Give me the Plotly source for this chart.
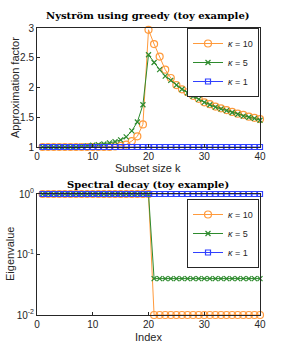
import plotly.graph_objects as go

k = list(range(1, 41))
fac_k10 = [1.0]*13 + [1.01, 1.02, 1.04, 1.10, 1.18, 1.38, 2.97, 2.73, 2.52, 2.30, 2.16, 2.04, 1.97, 1.92, 1.86,
           1.81, 1.75, 1.72, 1.68, 1.65, 1.62, 1.59, 1.56, 1.54, 1.51, 1.49, 1.47]
fac_k5 = [1.0]*7 + [1.01, 1.02, 1.03, 1.04, 1.05, 1.07, 1.09, 1.12, 1.17, 1.27, 1.42, 1.71, 2.55, 2.42, 2.30,
          2.19, 2.12, 2.04, 1.97, 1.91, 1.85, 1.80, 1.75, 1.71, 1.67, 1.64, 1.61, 1.58, 1.55, 1.52, 1.50, 1.48, 1.45]
fac_k1 = [1.0]*40
eig_k10 = [1.0]*20 + [0.01]*20
eig_k5 = [1.0]*20 + [0.04]*20
eig_k1 = [1.0]*40
labels = ["<i>κ</i> = 10", "<i>κ</i> = 5", "<i>κ</i> = 1"]

W, H = 287, 354
OR, GR, BL = "#FF9A3C", "#2E8B2E", "#3040FF"

def X(p):
    return p / W

def Y(p):
    return 1 - p / H

fig = go.Figure()
styles = [
    dict(color=OR, sym="circle-open", size=7),
    dict(color=GR, sym="x-thin-open", size=5),
    dict(color=BL, sym="square-open", size=5),
]
for ys, lab, st in zip([fac_k10, fac_k5, fac_k1], labels, styles):
    fig.add_trace(go.Scatter(x=k, y=ys, name=lab, mode="lines+markers", xaxis="x", yaxis="y",
                             line=dict(color=st["color"], width=1),
                             marker=dict(symbol=st["sym"], size=st["size"], color=st["color"],
                                         line=dict(width=1.2, color=st["color"])),
                             cliponaxis=False, legend="legend"))
for ys, lab, st in zip([eig_k10, eig_k5, eig_k1], labels, styles):
    fig.add_trace(go.Scatter(x=k, y=ys, name=lab, mode="lines+markers", xaxis="x2", yaxis="y2",
                             line=dict(color=st["color"], width=1),
                             marker=dict(symbol=st["sym"], size=st["size"], color=st["color"],
                                         line=dict(width=1.2, color=st["color"])),
                             cliponaxis=False, legend="legend2"))

axcommon = dict(showline=True, linecolor="#262626", linewidth=1, mirror=True, showgrid=False,
                zeroline=False, ticks="inside", ticklen=3, tickcolor="#262626", automargin=False,
                tickfont=dict(family="Liberation Sans", size=10, color="#262626"))
dom_x = [X(37), X(260)]
legcommon = dict(xanchor="right", yanchor="top", bgcolor="white",
                 bordercolor="#262626", borderwidth=1,
                 font=dict(family="Liberation Sans", size=9, color="#262626"),
                 tracegroupgap=0, itemwidth=30)
fig.update_layout(
    width=W, height=H, margin=dict(l=0, r=0, t=0, b=0, autoexpand=False),
    paper_bgcolor="white", plot_bgcolor="white",
    xaxis=dict(domain=dom_x, range=[0, 40], tickvals=[0, 10, 20, 30, 40], anchor="y", **axcommon),
    yaxis=dict(domain=[Y(147), Y(28)], range=[1, 3], tickvals=[1, 1.5, 2, 2.5, 3], anchor="x", **axcommon),
    xaxis2=dict(domain=dom_x, range=[0, 40], tickvals=[0, 10, 20, 30, 40], anchor="y2", **axcommon),
    yaxis2=dict(domain=[Y(315), Y(194)], type="log", range=[-2, 0], tickvals=[1, 0.1, 0.01],
                ticktext=["10<sup>0</sup>", "10<sup>-1</sup>", "10<sup>-2</sup>"], anchor="x2", **axcommon),
    legend=dict(x=X(259), y=Y(28), **legcommon),
    legend2=dict(x=X(259), y=Y(199), **legcommon),
    showlegend=True,
)
ann = [
    dict(text="<b>Nyström using greedy (toy example)</b>", x=X(148), y=Y(15),
         font=dict(family="DejaVu Serif", size=10, color="black")),
    dict(text="<b>Spectral decay (toy example)</b>", x=X(148), y=Y(184),
         font=dict(family="DejaVu Serif", size=10, color="black")),
    dict(text="Subset size k", x=X(148), y=Y(168),
         font=dict(family="Liberation Sans", size=11, color="#262626")),
    dict(text="Index", x=X(148), y=Y(337),
         font=dict(family="Liberation Sans", size=11, color="#262626")),
    dict(text="Approximation factor", x=X(15), y=Y(88), textangle=-90,
         font=dict(family="Liberation Sans", size=11, color="#262626")),
    dict(text="Eigenvalue", x=X(10), y=Y(254), textangle=-90,
         font=dict(family="Liberation Sans", size=11, color="#262626")),
]
for a in ann:
    fig.add_annotation(xref="paper", yref="paper", showarrow=False, xanchor="center", yanchor="middle", **a)

fig.write_html("out.html", config={"displayModeBar": False},
               post_script="document.body.style.margin='0';")
